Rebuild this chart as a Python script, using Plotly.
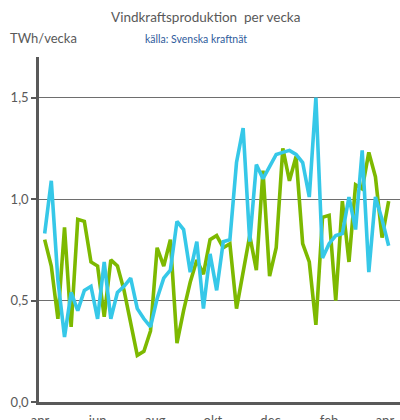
import plotly.graph_objects as go
import pandas as pd

weeks = pd.date_range("2018-04-06", periods=53, freq="7D")

green = [0.80, 0.67, 0.41, 0.86, 0.37, 0.90, 0.89, 0.69, 0.67, 0.42,
         0.70, 0.67, 0.55, 0.39, 0.23, 0.25, 0.35, 0.76, 0.67, 0.80,
         0.29, 0.45, 0.59, 0.70, 0.63, 0.80, 0.82, 0.76, 0.78, 0.46,
         0.63, 0.82, 0.65, 1.14, 0.62, 0.76, 1.25, 1.09, 1.21, 0.78,
         0.69, 0.38, 0.91, 0.92, 0.50, 0.99, 0.69, 1.07, 1.05, 1.23,
         1.11, 0.81, 0.99]

blue = [0.83, 1.09, 0.60, 0.32, 0.54, 0.45, 0.55, 0.57, 0.41, 0.69,
        0.41, 0.54, 0.57, 0.61, 0.46, 0.41, 0.37, 0.51, 0.61, 0.65,
        0.89, 0.85, 0.64, 0.79, 0.46, 0.73, 0.55, 0.79, 0.80, 1.18,
        1.35, 0.79, 1.17, 1.10, 1.16, 1.22, 1.23, 1.24, 1.22, 1.18,
        1.01, 1.50, 0.71, 0.78, 0.82, 0.83, 1.01, 0.85, 1.24, 0.64,
        1.01, 0.90, 0.77]

tick_dates = ["2018-04-01", "2018-06-01", "2018-08-01", "2018-10-01",
              "2018-12-01", "2019-02-01", "2019-04-01"]
tick_labels = ["apr", "jun", "aug", "okt", "dec", "feb", "apr"]

fig = go.Figure()
fig.add_trace(go.Scatter(x=weeks, y=green, mode="lines",
                         line=dict(color="#7DB900", width=3.6), showlegend=False))
fig.add_trace(go.Scatter(x=weeks, y=blue, mode="lines",
                         line=dict(color="#36C8E8", width=3.6), showlegend=False))

axis_col = "#595959"
fig.update_layout(
    width=400, height=420,
    margin=dict(l=39, r=0, t=57, b=18, autoexpand=False),
    paper_bgcolor="white", plot_bgcolor="white",
    separators=",.",
    font=dict(family="Lato, 'Open Sans', sans-serif", size=13, color=axis_col),
    xaxis=dict(range=["2018-03-31", "2019-04-17"], tickvals=tick_dates,
               ticktext=tick_labels, showgrid=False, zeroline=False,
               showline=True, linecolor=axis_col, linewidth=2.5, ticks="",
               ticklabelstandoff=5,
               tickfont=dict(size=13, color=axis_col), automargin=False),
    yaxis=dict(range=[0, 1.7], tickvals=[0, 0.5, 1.0, 1.5], tickformat=".1f",
               showgrid=True, gridcolor="#6E6E6E", gridwidth=1.3,
               zeroline=False, showline=True, linecolor=axis_col, linewidth=2.5,
               ticks="outside", ticklen=5, tickwidth=2, tickcolor=axis_col,
               tickfont=dict(size=13, color=axis_col), automargin=False),
    annotations=[
        dict(text="Vindkraftsproduktion  per vecka", x=205, y=420 - 17,
             xref="paper", yref="paper", showarrow=False,
             font=dict(size=13.5, color=axis_col)),
        dict(text="TWh/vecka", x=8, y=420 - 38, xanchor="left",
             xref="paper", yref="paper", showarrow=False,
             font=dict(size=13, color=axis_col)),
        dict(text="källa: Svenska kraftnät", x=143, y=420 - 39, xanchor="left",
             xref="paper", yref="paper", showarrow=False,
             font=dict(size=10.5, color="#2F5C9C")),
    ],
)
# convert annotation pixel positions to paper coords
plot_w = 400 - 39
plot_h = 420 - 57 - 18
for a in fig.layout.annotations:
    a.x = (a.x - 39) / plot_w
    a.y = (a.y - 18) / plot_h
    a.yanchor = "middle"

fig.write_html("out.html", config={"displayModeBar": False},
               post_script="document.body.style.margin='0';document.body.style.overflow='hidden';")
